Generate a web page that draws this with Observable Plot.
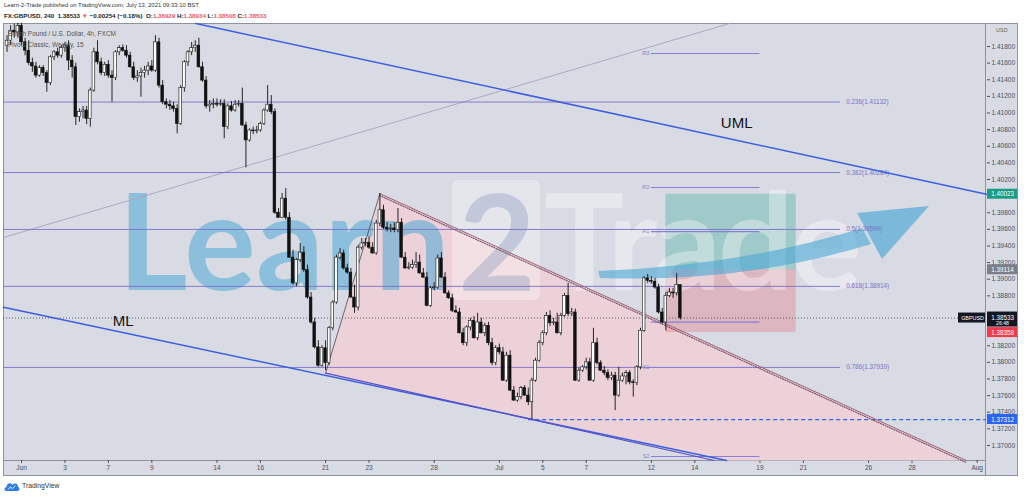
<!DOCTYPE html>
<html>
<head>
<meta charset="utf-8">
<title>GBPUSD 4h – Learn-2-Trade</title>
<script src="https://cdn.jsdelivr.net/npm/d3@7"></script>
<script src="https://cdn.jsdelivr.net/npm/@observablehq/plot@0.6"></script>
<style>
  html, body { margin: 0; padding: 0; background: #ffffff; }
  body { width: 1024px; height: 497px; overflow: hidden; font-family: "Liberation Sans", Arial, sans-serif; }
  #wrap { position: relative; width: 1024px; height: 497px; }
  #panel { position: absolute; left: 3px; top: 23px; width: 1015px; height: 453px; box-sizing: border-box; background: #d8dbe3; border: 1px solid #8d929c; }
  .sep-v { position: absolute; left: 985px; top: 23px; width: 1px; height: 453px; background: #8d929c; }
  .sep-h { position: absolute; left: 3px; top: 460px; width: 983px; height: 1px; background: #8d929c; }
  #chart { position: absolute; left: 0; top: 0; }
  .txt { position: absolute; white-space: nowrap; line-height: 1; }
  #pub { left: 4px; top: 3px; font-size: 5.9px; color: #333; }
  #ohlc { left: 4px; top: 13px; font-size: 6.2px; font-weight: bold; color: #222; }
  #ohlc .v { color: #f25563; }
  .legend { left: 8px; font-size: 6.5px; color: #555; }
  #usd { left: 996px; top: 28px; font-size: 5.5px; color: #666; }
  #brand { left: 4px; top: 481px; font-size: 6.8px; color: #333; display: flex; align-items: center; gap: 2px; }
</style>
</head>
<body>
<div id="wrap">
  <div id="panel"></div>
  <div class="sep-v"></div>
  <div class="sep-h"></div>
  <div id="chart"></div>
  <div class="txt" id="pub">Learn-2-Trade published on TradingView.com, July 13, 2021 09:33:10 BST</div>
  <div class="txt" id="ohlc"></div>
  <div class="txt legend" style="top:31px">British Pound / U.S. Dollar, 4h, FXCM</div>
  <div class="txt legend" style="top:42px">Pivots Classic, Weekly, 15</div>
  <div class="txt" id="usd">USD</div>
  <div class="txt" id="brand">
    <svg width="16" height="11" viewBox="0 0 16 11"><path d="M2,10 C0,10 0,6 2.5,6 C2.5,2 7,1 8.5,4 C10,1.5 14.5,2.5 14,6 C16,6.5 16,10 13.5,10 Z" fill="#2e7de0"/><path d="M4,8.5 L6.5,6 L8.5,7.5 L11.5,4.5" fill="none" stroke="#ffffff" stroke-width="0.9"/></svg>
    <span>TradingView</span>
  </div>
</div>
<script>
// ---------------------------------------------------------------------------
// GBPUSD, FXCM, 4-hour bars. Rows are trading sessions (six bars each);
// the first row holds the last four bars of the 31 May session.
// ---------------------------------------------------------------------------
const opens = [
  1.4181, 1.4187, 1.4199, 1.4197,
  1.4205, 1.4185, 1.4175, 1.4160, 1.4156, 1.4145,
  1.4154, 1.4148, 1.4136, 1.4167, 1.4173, 1.4169,
  1.4178, 1.4181, 1.4163, 1.4155, 1.4095, 1.4101,
  1.4103, 1.4093, 1.4127, 1.4173, 1.4161, 1.4148,
  1.4158, 1.4145, 1.4142, 1.4173, 1.4178, 1.4175,
  1.4169, 1.4155, 1.4142, 1.4144, 1.4148, 1.4151,
  1.4156, 1.4151, 1.4185, 1.4133, 1.4113, 1.4110,
  1.4108, 1.4105, 1.4087, 1.4130, 1.4161, 1.4173,
  1.4178, 1.4181, 1.4155, 1.4139, 1.4108, 1.4110,
  1.4111, 1.4110, 1.4111, 1.4083, 1.4108, 1.4103,
  1.4110, 1.4111, 1.4085, 1.4067, 1.4079, 1.4078,
  1.4079, 1.4087, 1.4103, 1.4110, 1.4101, 1.3980,
  1.3974, 1.3997, 1.3974, 1.3926, 1.3895, 1.3923,
  1.3932, 1.3911, 1.3878, 1.3848, 1.3818, 1.3796,
  1.3817, 1.3799, 1.3841, 1.3872, 1.3926, 1.3931,
  1.3913, 1.3908, 1.3878, 1.3866, 1.3938, 1.3943,
  1.3944, 1.3938, 1.3931, 1.3967, 1.3983, 1.3962,
  1.3960, 1.3961, 1.3959, 1.3968, 1.3926, 1.3913,
  1.3914, 1.3917, 1.3920, 1.3907, 1.3902, 1.3868,
  1.3889, 1.3890, 1.3925, 1.3902, 1.3883, 1.3877,
  1.3862, 1.3860, 1.3835, 1.3823, 1.3842, 1.3850,
  1.3829, 1.3848, 1.3835, 1.3844, 1.3823, 1.3799,
  1.3817, 1.3812, 1.3778, 1.3808, 1.3766, 1.3754,
  1.3758, 1.3769, 1.3760, 1.3752, 1.3778, 1.3802,
  1.3823, 1.3835, 1.3856, 1.3847, 1.3848, 1.3835,
  1.3856, 1.3880, 1.3858, 1.3860, 1.3778, 1.3790,
  1.3794, 1.3800, 1.3778, 1.3823, 1.3799, 1.3790,
  1.3787, 1.3781, 1.3784, 1.3760, 1.3778, 1.3783,
  1.3787, 1.3776, 1.3775, 1.3794, 1.3838, 1.3901,
  1.3898, 1.3897, 1.3890, 1.3860, 1.3848, 1.3880,
  1.3884, 1.3883, 1.38929
];
const highs = [
  1.4193, 1.4205, 1.4207, 1.4208,
  1.4208, 1.4190, 1.4187, 1.4166, 1.4161, 1.4157,
  1.4157, 1.4151, 1.4169, 1.4175, 1.4178, 1.4181,
  1.4185, 1.4187, 1.4169, 1.4160, 1.4105, 1.4108,
  1.4108, 1.4130, 1.4178, 1.4187, 1.4166, 1.4161,
  1.4163, 1.4151, 1.4175, 1.4181, 1.4182, 1.4181,
  1.4173, 1.4161, 1.4151, 1.4154, 1.4156, 1.4161,
  1.4163, 1.4193, 1.4190, 1.4139, 1.4117, 1.4115,
  1.4113, 1.4110, 1.4133, 1.4163, 1.4175, 1.4185,
  1.4187, 1.4190, 1.4161, 1.4144, 1.4115, 1.4117,
  1.4117, 1.4116, 1.4116, 1.4111, 1.4114, 1.4115,
  1.4115, 1.4130, 1.4089, 1.4081, 1.4083, 1.4084,
  1.4089, 1.4105, 1.4133, 1.4121, 1.4105, 1.3985,
  1.4003, 1.4009, 1.3980, 1.3935, 1.3925, 1.3943,
  1.3939, 1.3917, 1.3884, 1.3853, 1.3826, 1.3820,
  1.3826, 1.3843, 1.3874, 1.3929, 1.3937, 1.3935,
  1.3918, 1.3913, 1.3893, 1.3941, 1.3949, 1.3949,
  1.3951, 1.3944, 1.3971, 1.4003, 1.3989, 1.3968,
  1.3966, 1.3968, 1.3985, 1.3973, 1.3932, 1.3920,
  1.3923, 1.3932, 1.3929, 1.3913, 1.3908, 1.3891,
  1.3896, 1.3929, 1.3932, 1.3908, 1.3886, 1.3882,
  1.3868, 1.3865, 1.3841, 1.3844, 1.3853, 1.3855,
  1.3859, 1.3853, 1.3847, 1.3848, 1.3829, 1.3820,
  1.3822, 1.3818, 1.3812, 1.3814, 1.3771, 1.3763,
  1.3771, 1.3772, 1.3769, 1.3781, 1.3805, 1.3826,
  1.3838, 1.3860, 1.3862, 1.3853, 1.3859, 1.3859,
  1.3883, 1.3895, 1.3865, 1.3864, 1.3793, 1.3796,
  1.3805, 1.3805, 1.3841, 1.3829, 1.3802, 1.3795,
  1.3791, 1.3788, 1.3788, 1.3794, 1.3787, 1.3790,
  1.3790, 1.3779, 1.3796, 1.3841, 1.3903, 1.3906,
  1.3903, 1.3901, 1.3894, 1.3865, 1.3884, 1.3889,
  1.3889, 1.3907, 1.38934
];
const lows = [
  1.4173, 1.4181, 1.4190, 1.4190,
  1.4181, 1.4169, 1.4157, 1.4149, 1.4142, 1.4143,
  1.4144, 1.4125, 1.4133, 1.4163, 1.4166, 1.4166,
  1.4173, 1.4151, 1.4142, 1.4085, 1.4089, 1.4093,
  1.4086, 1.4083, 1.4125, 1.4158, 1.4145, 1.4144,
  1.4142, 1.4113, 1.4139, 1.4169, 1.4173, 1.4166,
  1.4154, 1.4139, 1.4137, 1.4119, 1.4142, 1.4145,
  1.4149, 1.4149, 1.4130, 1.4110, 1.4105, 1.4103,
  1.4101, 1.4075, 1.4085, 1.4125, 1.4156, 1.4169,
  1.4173, 1.4154, 1.4137, 1.4105, 1.4101, 1.4105,
  1.4107, 1.4108, 1.4069, 1.4080, 1.4101, 1.4101,
  1.4107, 1.4084, 1.4034, 1.4065, 1.4074, 1.4075,
  1.4077, 1.4085, 1.4101, 1.4098, 1.3978, 1.3973,
  1.3973, 1.3971, 1.3925, 1.3893, 1.3891, 1.3920,
  1.3908, 1.3876, 1.3846, 1.3816, 1.3794, 1.3794,
  1.3790, 1.3796, 1.3838, 1.3870, 1.3923, 1.3911,
  1.3906, 1.3877, 1.3859, 1.3862, 1.3935, 1.3939,
  1.3936, 1.3930, 1.3929, 1.3963, 1.3960, 1.3957,
  1.3956, 1.3956, 1.3956, 1.3925, 1.3912, 1.3911,
  1.3912, 1.3913, 1.3906, 1.3901, 1.3867, 1.3866,
  1.3886, 1.3888, 1.3901, 1.3882, 1.3876, 1.3860,
  1.3859, 1.3834, 1.3820, 1.3819, 1.3838, 1.3828,
  1.3826, 1.3834, 1.3831, 1.3820, 1.3796, 1.3796,
  1.3809, 1.3777, 1.3776, 1.3765, 1.3753, 1.3752,
  1.3755, 1.3759, 1.3748, 1.37312, 1.3776, 1.3800,
  1.3820, 1.3832, 1.3843, 1.3844, 1.3834, 1.3832,
  1.3854, 1.3855, 1.3855, 1.3777, 1.3776, 1.3788,
  1.3791, 1.3777, 1.3776, 1.3797, 1.3789, 1.3784,
  1.3778, 1.3778, 1.3742, 1.3758, 1.3776, 1.3773,
  1.3773, 1.3758, 1.3772, 1.3791, 1.3836, 1.3895,
  1.3894, 1.3888, 1.3858, 1.3846, 1.3838, 1.3878,
  1.3877, 1.3880, 1.38508
];
const closes = [
  1.4187, 1.4199, 1.4197, 1.4205,
  1.4185, 1.4175, 1.4160, 1.4156, 1.4145, 1.4154,
  1.4148, 1.4136, 1.4167, 1.4173, 1.4169, 1.4178,
  1.4181, 1.4163, 1.4155, 1.4095, 1.4101, 1.4103,
  1.4093, 1.4127, 1.4173, 1.4161, 1.4148, 1.4158,
  1.4145, 1.4142, 1.4173, 1.4178, 1.4175, 1.4169,
  1.4155, 1.4142, 1.4144, 1.4148, 1.4151, 1.4156,
  1.4151, 1.4185, 1.4133, 1.4113, 1.4110, 1.4108,
  1.4105, 1.4087, 1.4130, 1.4161, 1.4173, 1.4178,
  1.4181, 1.4155, 1.4139, 1.4108, 1.4110, 1.4111,
  1.4110, 1.4111, 1.4083, 1.4108, 1.4103, 1.4110,
  1.4111, 1.4085, 1.4067, 1.4079, 1.4078, 1.4079,
  1.4087, 1.4103, 1.4110, 1.4101, 1.3980, 1.3974,
  1.3997, 1.3974, 1.3926, 1.3895, 1.3923, 1.3932,
  1.3911, 1.3878, 1.3848, 1.3818, 1.3796, 1.3817,
  1.3799, 1.3841, 1.3872, 1.3926, 1.3931, 1.3913,
  1.3908, 1.3878, 1.3866, 1.3938, 1.3943, 1.3944,
  1.3938, 1.3931, 1.3967, 1.3983, 1.3962, 1.3960,
  1.3961, 1.3959, 1.3968, 1.3926, 1.3913, 1.3914,
  1.3917, 1.3920, 1.3907, 1.3902, 1.3868, 1.3889,
  1.3890, 1.3925, 1.3902, 1.3883, 1.3877, 1.3862,
  1.3860, 1.3835, 1.3823, 1.3842, 1.3850, 1.3829,
  1.3848, 1.3835, 1.3844, 1.3823, 1.3799, 1.3817,
  1.3812, 1.3778, 1.3808, 1.3766, 1.3754, 1.3758,
  1.3769, 1.3760, 1.3752, 1.3778, 1.3802, 1.3823,
  1.3835, 1.3856, 1.3847, 1.3848, 1.3835, 1.3856,
  1.3880, 1.3858, 1.3860, 1.3778, 1.3790, 1.3794,
  1.3800, 1.3778, 1.3823, 1.3799, 1.3790, 1.3787,
  1.3781, 1.3784, 1.3760, 1.3778, 1.3783, 1.3787,
  1.3776, 1.3775, 1.3794, 1.3838, 1.3901, 1.3898,
  1.3897, 1.3890, 1.3860, 1.3848, 1.3880, 1.3884,
  1.3883, 1.3893, 1.38533
];
const barsBeforeFirstTick = 4;   // bars of the 31 May session
const barsPerSession = 6;

// Time axis: position = trading-session index (0 = Tue 1 Jun 2021)
const sessionTicks = [0, 2, 4, 6, 9, 11, 14, 16, 19, 22, 24, 26, 29, 31, 34, 36, 39, 41, 44];
const sessionTickLabels = ["Jun", "3", "7", "9", "14", "16", "21", "23", "28", "Jul", "5", "7", "12", "14", "19", "21", "26", "28", "Aug"];
// price labels (those covered by the price tags are left out)
const priceTicks = [1.370, 1.372, 1.374, 1.376, 1.378, 1.380, 1.382, 1.388, 1.390, 1.392,
  1.394, 1.396, 1.398, 1.402, 1.404, 1.406, 1.408, 1.410, 1.412, 1.414, 1.416, 1.418];
const xDomain = [-0.829, 44.43];
const yDomain = [1.36819, 1.42077];

// Fibonacci retracement levels
const fibRatios = ["0.236", "0.382", "0.5", "0.618", "0.786"];
const fibPrices = [1.41132, 1.40284, 1.39599, 1.38914, 1.37939];
const fibEnd = 37.7;

// Weekly classic pivots for the week of 12 Jul
const pivotNames = ["R3", "R2", "R1", "P", "S1", "S2"];
const pivotPrices = [1.41716, 1.40104, 1.39574, 1.38485, 1.37938, 1.36867];
const pivotSpan = [29, 34];

// Drawn channel and pattern lines (session index, price)
const umlT = [8.03, 44.43], umlP = [1.42077, 1.40023];
const mlT = [-0.83, 32.46], mlP = [1.38664, 1.36819];
const riseT = [-0.83, 32.6], riseP = [1.39502, 1.42077];
const wedgeT = [14.0, 16.5, 43.5, 32.46], wedgeP = [1.3787, 1.4003, 1.36819, 1.36819];
const lowerEdgeT = [14.0, 31.9], lowerEdgeP = [1.3787, 1.36819];

// Long position: entry, target, stop
const positionSpan = [29.67, 35.67];
const entryPrice = 1.39114, targetPrice = 1.40023, stopPrice = 1.38358;

// 2 Jul swing low
const swingLowStart = 23.35, swingLow = 1.37312;

// Price-scale tags
const tagPrices = [1.40023, 1.39114, 1.38358, 1.37312];
const tagColors = ["#1a9c85", "#7b7e88", "#ef3c4b", "#2b63f2"];
const dayChange = "\u22120.00254", dayChangePct = "\u22120.18%";
const barCountdown = "26:48";

// Chart annotations
const noteNames = ["UML", "ML"];
const noteT = [32.2, 4.2];
const notePrices = [1.40874, 1.38492];

// ---------------------------------------------------------------------------
const bars = opens.map((o, i) => ({
  t: (i - barsBeforeFirstTick) / barsPerSession,
  open: o, high: highs[i], low: lows[i], close: closes[i]
}));
const last = bars[bars.length - 1];
const pts = (ts, ps) => ts.map((t, i) => ({t, p: ps[i]}));
const fibs = fibRatios.map((r, i) => ({ratio: r, price: fibPrices[i]}));
const pivots = pivotNames.map((n, i) => ({name: n, price: pivotPrices[i]}));
const tags = tagPrices.map((p, i) => ({price: p, color: tagColors[i], text: p.toFixed(5)}));
const notes = noteNames.map((n, i) => ({text: n, t: noteT[i], p: notePrices[i]}));
const tickLabel = new Map(sessionTicks.map((t, i) => [t, sessionTickLabels[i]]));
const bodyHalf = 0.062;
const xMax = xDomain[1];
const fibColor = "#7b70c9";
const pivotColor = "#8a7ed8";
const font = "Liberation Sans, Arial, sans-serif";

// Learn2Trade logo watermark, drawn beneath the trend lines and candles
function watermark() {
  const ns = "http://www.w3.org/2000/svg";
  const g = document.createElementNS(ns, "g");
  g.setAttribute("pointer-events", "none");
  g.setAttribute("text-anchor", "start");
  const add = (tag, attrs, text) => {
    const el = document.createElementNS(ns, tag);
    for (const k in attrs) el.setAttribute(k, attrs[k]);
    if (text) el.textContent = text;
    g.appendChild(el);
    return el;
  };
  const wm = {"font-family": "Lato, 'Open Sans', sans-serif", "font-weight": 700, "font-size": 134};
  add("text", {...wm, x: 118, y: 290, "text-anchor": "start", fill: "#4fa8d6", "fill-opacity": 0.55,
    textLength: 332, lengthAdjust: "spacing"}, "Learn");
  add("rect", {x: 452, y: 180, width: 88, height: 120, rx: 6, fill: "#ffffff", "fill-opacity": 0.32});
  add("text", {...wm, x: 497, y: 291, "text-anchor": "middle", fill: "#9aa5c4", "fill-opacity": 0.45}, "2");
  add("text", {...wm, x: 544, y: 290, "text-anchor": "start", fill: "#ffffff", "fill-opacity": 0.36,
    textLength: 318, lengthAdjust: "spacing"}, "Trade");
  add("path", {d: "M598,271 Q740,266 862,228 L871,244 Q745,283 600,278 Z", fill: "#49a6d5", "fill-opacity": 0.6});
  add("path", {d: "M857,213 L929,206 L882,259 Z", fill: "#49a6d5", "fill-opacity": 0.65});
  return g;
}

const chart = Plot.plot({
  width: 1024,
  height: 497,
  marginTop: 23,
  marginBottom: 37,
  marginLeft: 3,
  marginRight: 38,
  style: {background: "transparent", fontFamily: font, fontSize: "6.5px", color: "#4c4f5a", overflow: "visible"},
  x: {domain: xDomain, ticks: sessionTicks, tickFormat: d => tickLabel.get(d), tickSize: 3, tickPadding: 2, label: null},
  y: {domain: yDomain, axis: "right", ticks: priceTicks, tickFormat: d3.format(".5f"), tickSize: 3, tickPadding: 2, label: null},
  marks: [
    // pattern fill and position tool
    Plot.line(pts(wedgeT, wedgeP), {x: "t", y: "p", fill: "#ecd1d8", stroke: "none"}),
    Plot.rect([{a: positionSpan[0], b: positionSpan[1], lo: entryPrice, hi: targetPrice}],
      {x1: "a", x2: "b", y1: "lo", y2: "hi", fill: "#0c9c84", fillOpacity: 0.27}),
    Plot.rect([{a: positionSpan[0], b: positionSpan[1], lo: stopPrice, hi: entryPrice}],
      {x1: "a", x2: "b", y1: "lo", y2: "hi", fill: "#f23645", fillOpacity: 0.22}),
    watermark,

    // faint rising trend line
    Plot.line(pts(riseT, riseP), {x: "t", y: "p", stroke: "#b3a3c6", strokeWidth: 1}),

    // fibonacci levels
    Plot.ruleY(fibs, {y: "price", x1: () => xDomain[0], x2: () => fibEnd, stroke: fibColor, strokeWidth: 1, strokeOpacity: 0.9}),
    Plot.text(fibs, {x: () => fibEnd, y: "price", text: d => `${d.ratio}(${d.price.toFixed(5)})`, dx: 6,
      textAnchor: "start", fontSize: 6.3, fill: fibColor}),

    // weekly pivots
    Plot.ruleY(pivots, {y: "price", x1: () => pivotSpan[0], x2: () => pivotSpan[1], stroke: pivotColor, strokeWidth: 1.2}),
    Plot.text(pivots.filter(d => d.name !== "P"), {x: () => pivotSpan[0], y: "price", text: "name", dx: -2,
      textAnchor: "end", fontSize: 5.5, fill: pivotColor}),

    // last price and swing-low lines
    Plot.ruleY([last.close], {x1: () => xDomain[0], x2: () => xMax, stroke: "#3a3d46", strokeWidth: 0.8, strokeDasharray: "1,2"}),
    Plot.ruleY([swingLow], {x1: () => swingLowStart, x2: () => xMax, stroke: "#2b63f2", strokeWidth: 1.2, strokeDasharray: "4,3"}),

    // pitchfork lines
    Plot.line(pts(umlT, umlP), {x: "t", y: "p", stroke: "#3d5fdf", strokeWidth: 1.5}),
    Plot.line(pts(mlT, mlP), {x: "t", y: "p", stroke: "#3d5fdf", strokeWidth: 1.5}),
    Plot.line(pts(lowerEdgeT, lowerEdgeP), {x: "t", y: "p", stroke: "#5d4fc0", strokeWidth: 1.2}),

    // pattern edges
    Plot.line(pts(wedgeT.slice(0, 2), wedgeP.slice(0, 2)), {x: "t", y: "p", stroke: "#4a4a52", strokeWidth: 0.8}),
    Plot.line(pts(wedgeT.slice(1, 3), wedgeP.slice(1, 3)), {x: "t", y: "p", stroke: "#99607a", strokeWidth: 1}),
    Plot.line(pts(wedgeT.slice(1, 3), wedgeP.slice(1, 3)), {x: "t", y: "p", stroke: "#7a5566", strokeWidth: 1.2, strokeDasharray: "1,1.5", dy: 2}),

    // candles
    Plot.ruleX(bars, {x: "t", y1: "low", y2: "high", stroke: "#111111", strokeWidth: 0.9}),
    Plot.rect(bars.filter(d => d.close >= d.open), {x1: d => d.t - bodyHalf, x2: d => d.t + bodyHalf, y1: "open", y2: "close",
      fill: "#ffffff", stroke: "#111111", strokeWidth: 0.6}),
    Plot.rect(bars.filter(d => d.close < d.open), {x1: d => d.t - bodyHalf, x2: d => d.t + bodyHalf, y1: "open", y2: "close",
      fill: "#111111", stroke: "#111111", strokeWidth: 0.6}),

    // annotations
    Plot.text(notes, {x: "t", y: "p", text: "text", textAnchor: "start", fontSize: 15, fill: "#111111", fontFamily: font}),

    // price-scale tags
    Plot.rect(tags, {x1: () => xMax, x2: () => xMax, y1: "price", y2: "price", insetLeft: 1, insetRight: -31,
      insetTop: -5, insetBottom: -5, fill: "color"}),
    Plot.text(tags, {x: () => xMax, y: "price", text: "text", dx: 16, textAnchor: "middle", fill: "#ffffff", fontSize: 6.3}),
    Plot.rect([last.close], {x1: () => xMax, x2: () => xMax, y1: d => d, y2: d => d, insetLeft: 1, insetRight: -31,
      insetTop: -6, insetBottom: -9, fill: "#131722"}),
    Plot.text([last.close], {x: () => xMax, y: d => d, text: d => d.toFixed(5), dx: 16, dy: -0.5, textAnchor: "middle", fill: "#ffffff", fontSize: 6.3}),
    Plot.text([last.close], {x: () => xMax, y: d => d, text: () => barCountdown, dx: 16, dy: 5.5, textAnchor: "middle", fill: "#ffffff", fontSize: 5.2}),
    Plot.rect([last.close], {x1: () => xMax, x2: () => xMax, y1: d => d, y2: d => d, insetLeft: -28, insetRight: 1,
      insetTop: -5, insetBottom: -5, fill: "#131722"}),
    Plot.text([last.close], {x: () => xMax, y: d => d, text: () => "GBPUSD", dx: -14, textAnchor: "middle", fill: "#ffffff", fontSize: 5.4})
  ]
});
document.getElementById("chart").append(chart);

// symbol line with OHLC of the current bar
const f5 = d3.format(".5f");
document.getElementById("ohlc").innerHTML =
  `FX:GBPUSD, 240&nbsp; ${f5(last.close)} <span class="v">\u25BC</span> ${dayChange} (${dayChangePct})&nbsp; ` +
  `O:<span class="v">${f5(last.open)}</span> H:<span class="v">${f5(last.high)}</span> ` +
  `L:<span class="v">${f5(last.low)}</span> C:<span class="v">${f5(last.close)}</span>`;
</script>
</body>
</html>
